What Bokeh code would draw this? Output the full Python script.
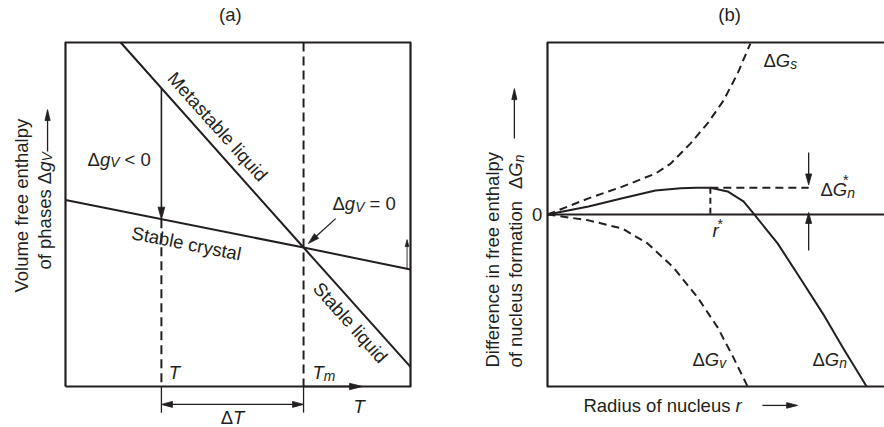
import math
from bokeh.plotting import figure
from bokeh.models import Range1d
from bokeh.core.properties import value
from bokeh.embed import file_html
from bokeh.resources import INLINE
import numpy as np

# ---------------- data (schematic units) ----------------
# Panel (a): volume free enthalpy vs temperature (box spans 0..10 on both axes)
T_liquid = [1.6, 6.9, 10.0]
g_liquid = [10.0, 4.04, 0.57]
T_crystal = [0.0, 6.9, 10.0]
g_crystal = [5.42, 4.04, 3.40]
T_under = 2.78      # temperature T
T_melt = 6.9        # melting temperature Tm

# Panel (b): free enthalpy of nucleus formation vs radius (r 0..10, G -5..5)
r_s = [0, 0.23, 1.19, 2.17, 3.13, 3.57, 4.14, 4.64, 5.10, 5.51, 5.88]
G_s = [0, 0.09, 0.47, 0.81, 1.19, 1.48, 2.06, 2.65, 3.31, 4.10, 4.97]
r_v = [0, 0.23, 1.19, 2.17, 2.90, 3.65, 4.35, 4.93, 5.39, 5.80]
G_v = [0, -0.03, -0.17, -0.41, -0.84, -1.54, -2.41, -3.28, -4.16, -5.0]
r_n = [0, 1.19, 2.17, 3.13, 3.86, 4.30, 4.72, 5.22, 5.68, 5.97, 6.67, 7.33, 8.0, 8.58, 9.25]
G_n = [0, 0.23, 0.47, 0.70, 0.76, 0.78, 0.78, 0.67, 0.38, 0.03, -0.84, -1.86, -2.91, -3.90, -5.0]
r_star = 4.72
G_star = 0.78

# ---------------- layout ----------------
W_PX, H_PX = 884, 427
OX, OY = 0, 0                     # page offset of the canvas
SX, SY = 34.5, 34.4               # px per unit
A_LEFT, A_BOTTOM = 65, 386        # panel (a) box origin (window px)
B_LEFT, B_ZERO = 547, 214         # panel (b) origin (window px)
FS = 18.5
BASE_FIX = -6.5                   # baseline correction (px, along text "down")

xa = Range1d(-(A_LEFT - OX) / SX, (OX + W_PX - A_LEFT) / SX)
ya = Range1d(-(OY + H_PX - A_BOTTOM) / SY, (A_BOTTOM - OY) / SY)
xb = Range1d(-(B_LEFT - OX) / SX, (OX + W_PX - B_LEFT) / SX)
yb = Range1d(-(OY + H_PX - B_ZERO) / SY, (B_ZERO - OY) / SY)

p = figure(width=W_PX, height=H_PX, output_backend="svg", toolbar_location=None,
           x_range=xa, y_range=ya, x_axis_type=None, y_axis_type=None,
           min_border=0, title=None, outline_line_color=None,
           background_fill_color="white", border_fill_color="white")
p.extra_x_ranges = {"b": xb}
p.extra_y_ranges = {"b": yb}
p.xgrid.visible = False
p.ygrid.visible = False

INK = "#231f20"
FONT = value("Liberation Sans")

WID = {'Δ': .667, 'g': .556, 'G': .778, 'V': .667, 'v': .5, 'n': .556, 's': .5,
       '<': .584, '=': .584, '0': .556, 'T': .611, 'm': .833, 'r': .333, '*': .389,
       ' ': .278, 'o': .556, 'f': .278, 'p': .556, 'h': .556, 'a': .556, 'e': .556,
       'u': .556, 'c': .5, 'l': .222, 'i': .222, 't': .278, 'R': .722, 'd': .556}


def tw(s, fs):
    return sum(WID.get(c, .556) for c in s) * fs


def rn(panel):
    return "default" if panel == "a" else "b"


def ln(xs, ys, panel="a", lw=2.0, dash="solid"):
    p.line(xs, ys, line_color=INK, line_width=lw, line_dash=dash,
           line_cap="butt", line_join="round",
           x_range_name=rn(panel), y_range_name=rn(panel))


def head(xt, yt, ux, uy, panel, hl, hw):
    bx, by = xt - ux * hl / SX, yt - uy * hl / SY
    px, py = -uy * hw, ux * hw
    p.patch([xt, bx + px / SX, bx - px / SX], [yt, by + py / SY, by - py / SY],
            fill_color=INK, line_color=INK, line_width=0.8,
            x_range_name=rn(panel), y_range_name=rn(panel))


def arrow(x0, y0, x1, y1, panel="a", lw=1.5, hl=11, hw=3.2, both=False):
    dxp, dyp = (x1 - x0) * SX, (y1 - y0) * SY
    L = math.hypot(dxp, dyp)
    ux, uy = dxp / L, dyp / L
    sx0, sy0 = x0, y0
    if both:
        sx0, sy0 = x0 + ux * hl * 0.8 / SX, y0 + uy * hl * 0.8 / SY
        head(x0, y0, -ux, -uy, panel, hl, hw)
    ln([sx0, x1 - ux * hl * 0.8 / SX], [sy0, y1 - uy * hl * 0.8 / SY], panel, lw)
    head(x1, y1, ux, uy, panel, hl, hw)


def txt(x, y, s, panel="a", size=FS, angle=0.0, align="center", base="middle", italic=False):
    p.text([x], [y], text=[s], angle=angle, text_align=align, text_baseline=base,
           text_font=FONT, text_font_size=value(f"{size}px"),
           text_font_style="italic" if italic else "normal", text_color=INK,
           x_range_name=rn(panel), y_range_name=rn(panel))


def rich(x, y, parts, panel="a", size=FS, angle=0.0, align="left"):
    # parts: (text, italic, shift_px_down, scale, dx_px, advance)
    ux, uy = math.cos(angle), -math.sin(angle)
    nx, ny = math.sin(angle), math.cos(angle)
    total = sum(tw(t, size * sc) + dx for t, it, sh, sc, dx, adv in parts if adv)
    pos = 0.0 if align == "left" else -total / 2
    for t, it, sh, sc, dx, adv in parts:
        fs = size * sc
        along = pos + dx
        s = sh + BASE_FIX
        sxp = along * ux + s * nx
        syp = along * uy + s * ny
        txt(x + sxp / SX, y - syp / SY, t, panel, fs, angle, "left", "alphabetic", it)
        if adv:
            pos = along + tw(t, fs)


def P(t, it=False, sh=0, sc=1.0, dx=0, adv=True):
    return (t, it, sh, sc, dx, adv)


SP = 0.278 * FS

# ================= Panel (a) =================
ln([0, 10, 10, 0, 0], [0, 0, 10, 10, 0], "a", 2.2)
ln(T_liquid, g_liquid, "a", 2.0)
ln(T_crystal, g_crystal, "a", 2.0)

g_liq_T = float(np.interp(T_under, T_liquid, g_liquid))
g_cry_T = float(np.interp(T_under, T_crystal, g_crystal))

ln([T_melt, T_melt], [10, 0], "a", 2.0, "9 5")
ln([T_under, T_under], [g_cry_T, 0], "a", 2.0, "9 5")
ln([T_melt, T_melt], [0, -0.76], "a", 1.3)
ln([T_under, T_under], [0, -0.76], "a", 1.3)

arrow(T_under, g_liq_T, T_under, g_cry_T, "a", 1.6, 12, 3.4)
arrow(T_under, -0.52, T_melt, -0.52, "a", 1.2, 11, 3.0, both=True)
arrow(T_melt, 0, 8.61, 0, "a", 1.5, 13, 3.2)
arrow(7.83, 4.88, 7.04, 4.16, "a", 1.3, 11, 3.2)
arrow(9.9, g_crystal[-1], 9.9, 4.27, "a", 0.9, 7, 1.8)
arrow(-0.52, 6.83, -0.52, 8.05, "a", 1.3, 11, 2.6)

sa = -math.atan((g_liquid[0] - g_liquid[1]) / (T_liquid[1] - T_liquid[0]) * SY / SX)
sc_ang = -math.atan((g_crystal[0] - g_crystal[1]) / (T_crystal[1] - T_crystal[0]) * SY / SX)
txt(4.78, 10.81, "(a)", "a")
txt(4.41, 7.56, "Metastable liquid", "a", angle=sa)
txt(8.26, 1.86, "Stable liquid", "a", angle=sa)
txt(3.51, 4.16, "Stable crystal", "a", angle=sc_ang)

rich(0.64, 6.42, [P("Δ"), P("g", True), P("V", True, 3, 0.75), P("<", dx=SP), P("0", dx=SP)], "a")
rich(7.74, 5.12, [P("Δ"), P("g", True), P("V", True, 3, 0.75), P("=", dx=SP), P("0", dx=SP)], "a")
rich(2.99, 0.22, [P("T", True)], "a")
rich(7.16, 0.22, [P("T", True), P("m", True, 4, 0.75)], "a")
rich(8.35, -0.76, [P("T", True)], "a")
rich(4.84, -1.10, [P("Δ"), P("T", True)], "a", align="center")

up = math.pi / 2
rich(-1.10, 2.73, [P("Volume free enthalpy")], "a", angle=up)
rich(-0.43, 3.40, [P("of phases"), P("Δ", dx=SP), P("g", True), P("V", True, 3, 0.75)], "a", angle=up)

# ================= Panel (b) =================
ln([10, 0, 0, 10, 10], [5, 5, -5, -5, 5], "b", 2.2)
ln([0, 10], [0, 0], "b", 2.0)
ln(r_s, G_s, "b", 2.0, "8 5")
ln(r_v, G_v, "b", 2.0, "8 5")
ln(r_n, G_n, "b", 2.0)
ln([r_star, 7.57], [G_star, G_star], "b", 2.0, "8 5")
ln([r_star, r_star], [G_star, 0], "b", 2.0, "6 4")

arrow(7.57, 1.80, 7.57, G_star + 0.08, "b", 1.3, 11, 3.0)
arrow(7.57, -1.05, 7.57, 0.06, "b", 1.3, 11, 3.0)
arrow(6.23, -5.55, 7.25, -5.55, "b", 1.3, 11, 2.8)
arrow(-0.96, 2.21, -0.96, 3.66, "b", 1.3, 11, 2.6)

txt(5.28, 5.81, "(b)", "b")
txt(-0.15, 0.0, "0", "b", align="right")
rich(6.26, 4.30, [P("Δ"), P("G", True), P("s", True, 4, 0.75)], "b")
rich(7.91, 0.55, [P("Δ"), P("G", True), P("*", True, -9, 0.8, -5, False), P("n", True, 4, 0.75)], "b")
rich(4.78, -0.64, [P("r", True), P("*", False, -6, 0.75, -1)], "b")
rich(4.20, -4.39, [P("Δ"), P("G", True), P("v", True, 4, 0.75)], "b")
rich(7.68, -4.39, [P("Δ"), P("G", True), P("n", True, 4, 0.75)], "b")
rich(1.04, -5.73, [P("Radius of nucleus"), P("r", True, dx=SP)], "b")
rich(-1.42, -4.45, [P("Difference in free enthalpy")], "b", angle=up)
rich(-0.75, -4.45, [P("of nucleus formation"), P("Δ", dx=12), P("G", True), P("n", True, 4, 0.75)],
     "b", angle=up)

open("out.html", "w").write(file_html(p, INLINE))
